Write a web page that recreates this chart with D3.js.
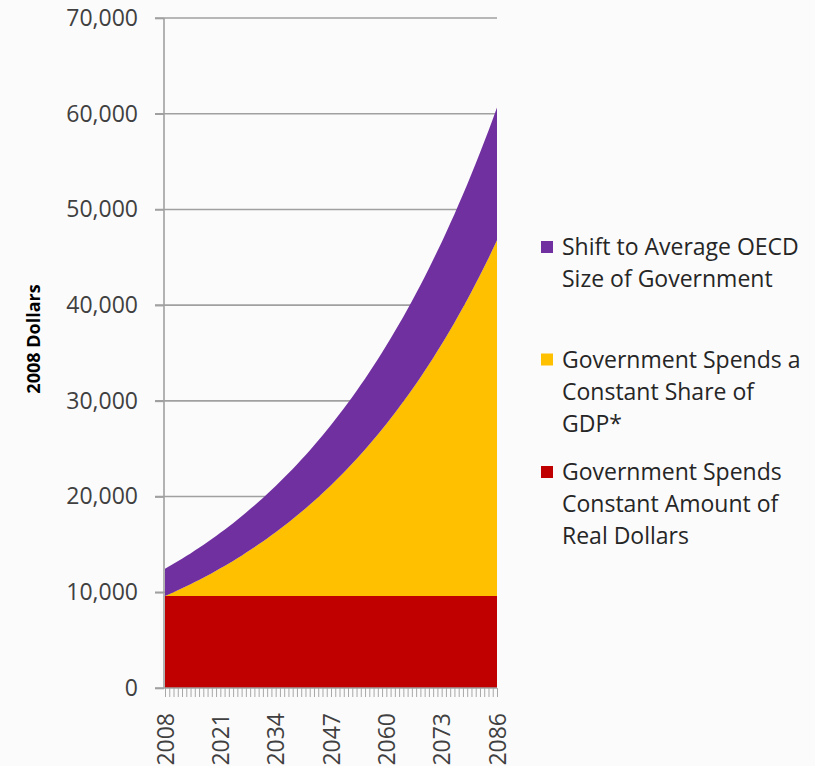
<!DOCTYPE html>
<html>
<head>
<meta charset="utf-8">
<script src="https://cdn.jsdelivr.net/npm/d3@7"></script>
<style>
  body { margin: 0; background: #fbfbfb; }
  svg { display: block; }
  text { font-family: "Open Sans", "DejaVu Sans", sans-serif; }
</style>
</head>
<body>
<svg id="chart" width="815" height="766"></svg>
<script>
// ---------- data ----------
const years = d3.range(2008, 2087);
const xTickLabels = [2008, 2021, 2034, 2047, 2060, 2073, 2086];
const yTicks = [0, 10000, 20000, 30000, 40000, 50000, 60000, 70000];

const realDollars = [
  9600,9600,9600,9600,9600,9600,9600,9600,9600,9600,
  9600,9600,9600,9600,9600,9600,9600,9600,9600,9600,
  9600,9600,9600,9600,9600,9600,9600,9600,9600,9600,
  9600,9600,9600,9600,9600,9600,9600,9600,9600,9600,
  9600,9600,9600,9600,9600,9600,9600,9600,9600,9600,
  9600,9600,9600,9600,9600,9600,9600,9600,9600,9600,
  9600,9600,9600,9600,9600,9600,9600,9600,9600,9600,
  9600,9600,9600,9600,9600,9600,9600,9600,9600
];
const constantShare = [
  0,200,400,600,810,1030,1240,1470,1690,1920,
  2160,2400,2650,2900,3150,3420,3680,3960,4230,4520,
  4810,5100,5410,5710,6030,6350,6670,7010,7350,7700,
  8050,8410,8780,9160,9540,9940,10340,10750,11160,11590,
  12020,12470,12920,13380,13850,14330,14820,15320,15840,16360,
  16890,17430,17990,18550,19130,19720,20320,20930,21560,22200,
  22850,23520,24200,24890,25600,26320,27050,27810,28570,29360,
  30160,30970,31800,32650,33520,34400,35300,36230,37170
];
const oecdShift = [
  2850,2910,2970,3030,3090,3150,3220,3290,3350,3420,
  3490,3560,3640,3710,3790,3860,3940,4020,4110,4190,
  4280,4370,4450,4550,4640,4730,4830,4930,5030,5130,
  5240,5350,5460,5570,5680,5800,5920,6040,6160,6290,
  6420,6550,6690,6820,6960,7100,7250,7400,7550,7710,
  7860,8030,8190,8360,8530,8700,8880,9070,9250,9440,
  9630,9830,10030,10240,10450,10660,10880,11110,11330,11570,
  11800,12040,12290,12540,12800,13060,13330,13600,13880
];

const seriesKeys = ["real", "share", "oecd"];
const seriesColors = { real: "#C00000", share: "#FFC000", oecd: "#7030A0" };
const legendOrder = ["oecd", "share", "real"];
const legendLines = {
  oecd: ["Shift to Average OECD", "Size of Government"],
  share: ["Government Spends a", "Constant Share of", "GDP*"],
  real: ["Government Spends", "Constant Amount of", "Real Dollars"]
};
const yTitle = "2008 Dollars";

// ---------- build ----------
const rows = years.map((yr, i) => ({
  year: yr, real: realDollars[i], share: constantShare[i], oecd: oecdShift[i]
}));

const svg = d3.select("#chart");
const plotLeft = 164, plotRight = 497, plotTop = 18, plotBottom = 688;

const x = d3.scalePoint().domain(years).range([plotLeft + 1, plotRight]);
const y = d3.scaleLinear().domain([0, 70000]).range([plotBottom, plotTop]);

// gridlines
svg.append("g").selectAll("line")
  .data(yTicks.filter(d => d > 0))
  .join("line")
  .attr("x1", plotLeft - 9).attr("x2", plotRight)
  .attr("y1", d => y(d)).attr("y2", d => y(d))
  .attr("stroke", "#a0a0a0").attr("stroke-width", 1.6);

// stacked areas
const stack = d3.stack().keys(seriesKeys);
const layers = stack(rows);
const area = d3.area()
  .x(d => x(d.data.year))
  .y0(d => y(d[0]))
  .y1(d => y(d[1]));

svg.append("g").selectAll("path")
  .data(layers)
  .join("path")
  .attr("d", area)
  .attr("fill", d => seriesColors[d.key]);

// y axis
const yAxis = d3.axisLeft(y)
  .tickValues(yTicks)
  .tickSize(9)
  .tickPadding(17)
  .tickFormat(d3.format(","));
const gy = svg.append("g").attr("transform", `translate(${plotLeft},0)`).call(yAxis);
gy.select(".domain").remove();
gy.selectAll(".tick line").attr("stroke", "#a0a0a0").attr("stroke-width", 1.6);
gy.selectAll(".tick text")
  .attr("fill", "#404040")
  .style("font-size", "23px");
svg.append("line")
  .attr("x1", plotLeft).attr("x2", plotLeft)
  .attr("y1", plotTop).attr("y2", plotBottom)
  .attr("stroke", "#a0a0a0").attr("stroke-width", 1.6);

// x axis
const xAxis = d3.axisBottom(x)
  .tickValues(years)
  .tickSize(9)
  .tickFormat(d => xTickLabels.includes(d) ? String(d) : "");
const gx = svg.append("g").attr("transform", `translate(0,${plotBottom})`).call(xAxis);
gx.select(".domain").remove();
gx.selectAll(".tick line").attr("stroke", "#a8a8a8").attr("stroke-width", 1);
gx.selectAll(".tick text")
  .attr("transform", "rotate(-90)")
  .attr("x", -25)
  .attr("y", 0)
  .attr("dy", "0.36em")
  .style("text-anchor", "end")
  .attr("fill", "#404040")
  .style("font-size", "23px");
svg.append("line")
  .attr("x1", plotLeft - 9).attr("x2", plotRight)
  .attr("y1", plotBottom).attr("y2", plotBottom)
  .attr("stroke", "#a0a0a0").attr("stroke-width", 1.6);

// y title
svg.append("text")
  .attr("transform", "translate(40,339) rotate(-90)")
  .attr("text-anchor", "middle")
  .style("font-size", "18px")
  .style("font-weight", "bold")
  .attr("fill", "#000")
  .text(yTitle);

// legend
const lg = svg.append("g");
legendOrder.forEach((key, i) => {
  const base = 255 + i * 112.5;
  lg.append("rect")
    .attr("x", 541).attr("y", base - 14)
    .attr("width", 12).attr("height", 12)
    .attr("fill", seriesColors[key]);
  legendLines[key].forEach((line, j) => {
    lg.append("text")
      .attr("x", 562).attr("y", base + j * 32)
      .style("font-size", "23px")
      .attr("fill", "#262626")
      .text(line);
  });
});
</script>
</body>
</html>
